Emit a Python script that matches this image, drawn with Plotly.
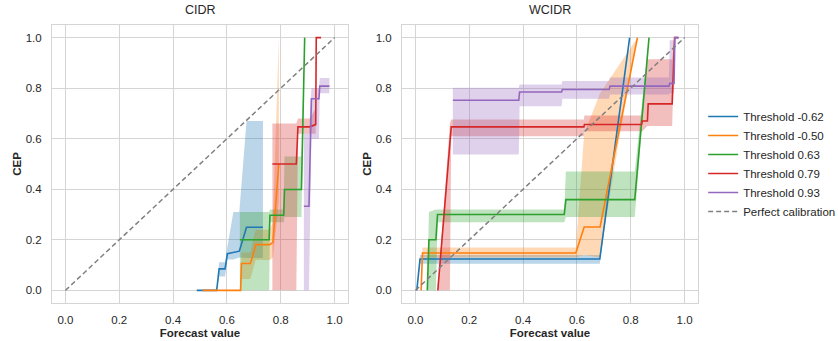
import plotly.graph_objects as go

# ---- data -----------------------------------------------------------------
thresholds = ["Threshold -0.62", "Threshold -0.50", "Threshold 0.63",
              "Threshold 0.79", "Threshold 0.93"]
colors = ["#1f77b4", "#ff7f0e", "#2ca02c", "#d62728", "#9467bd"]
band_colors = ["rgba(31,119,180,0.3)", "rgba(255,127,14,0.3)",
               "rgba(44,160,44,0.3)", "rgba(214,39,40,0.3)",
               "rgba(148,103,189,0.3)"]

# CIDR panel: forecast value, CEP, lower / upper band
cidr_x = [
    [0.488, 0.562, 0.571, 0.593, 0.602, 0.624, 0.646, 0.673, 0.734],
    [0.510, 0.651, 0.654, 0.687, 0.695, 0.707, 0.759, 0.771, 0.793],
    [0.648, 0.757, 0.760, 0.811, 0.814, 0.877, 0.889],
    [0.769, 0.858, 0.864, 0.907, 0.930, 0.932, 0.950],
    [0.886, 0.905, 0.914, 0.942, 0.945, 0.981],
]
cidr_y = [
    [0.0, 0.0, 0.085, 0.085, 0.145, 0.150, 0.155, 0.250, 0.250],
    [0.0, 0.0, 0.106, 0.106, 0.132, 0.181, 0.181, 0.190, 0.500],
    [0.200, 0.200, 0.297, 0.297, 0.399, 0.399, 1.0],
    [0.500, 0.500, 0.647, 0.647, 0.656, 1.0, 1.0],
    [0.333, 0.333, 0.758, 0.758, 0.808, 0.808],
]
cidr_lo = [
    [0.0, 0.0, 0.055, 0.055, 0.122, 0.122, 0.130, 0.128, 0.128],
    [0.0, 0.0, 0.045, 0.045, 0.080, 0.120, 0.120, 0.130, 0.350],
    [0.0, 0.0, 0.270, 0.270, 0.290, 0.290, 1.0],
    [0.0, 0.0, 0.620, 0.620, 0.620, 1.0, 1.0],
    [0.0, 0.0, 0.600, 0.600, 0.780, 0.780],
]
cidr_hi = [
    [0.0, 0.0, 0.111, 0.111, 0.174, 0.310, 0.310, 0.670, 0.670],
    [0.0, 0.0, 0.150, 0.150, 0.190, 0.240, 0.240, 0.270, 1.0],
    [0.310, 0.310, 0.320, 0.320, 0.530, 0.530, 1.0],
    [0.660, 0.660, 0.680, 0.680, 0.720, 1.0, 1.0],
    [0.620, 0.620, 0.800, 0.800, 0.840, 0.840],
]

# WCIDR panel
wcidr_x = [
    [0.005, 0.017, 0.685, 0.796],
    [0.021, 0.026, 0.596, 0.627, 0.686, 0.757, 0.825],
    [0.044, 0.050, 0.076, 0.082, 0.553, 0.559, 0.815, 0.868],
    [0.083, 0.128, 0.133, 0.626, 0.628, 0.840, 0.843, 0.862, 0.865,
     0.954, 0.963, 0.976],
    [0.139, 0.384, 0.387, 0.543, 0.546, 0.720, 0.723, 0.942, 0.945,
     0.961, 0.964, 0.979],
]
wcidr_y = [
    [0.0, 0.124, 0.124, 1.0],
    [0.0, 0.148, 0.148, 0.251, 0.251, 0.634, 1.0],
    [0.0, 0.200, 0.200, 0.300, 0.300, 0.359, 0.359, 1.0],
    [0.0, 0.580, 0.647, 0.647, 0.656, 0.656, 0.670, 0.670, 0.738,
     0.738, 1.0, 1.0],
    [0.752, 0.752, 0.785, 0.785, 0.795, 0.795, 0.808, 0.808, 0.819,
     0.819, 1.0, 1.0],
]
wcidr_lo = [
    [0.0, 0.105, 0.105, 1.0],
    [0.0, 0.130, 0.130, 0.140, 0.130, 0.600, 1.0],
    [0.0, 0.0, 0.0, 0.270, 0.270, 0.290, 0.290, 1.0],
    [0.0, 0.0, 0.610, 0.610, 0.630, 0.630, 0.630, 0.650, 0.650,
     0.650, 1.0, 1.0],
    [0.538, 0.538, 0.729, 0.729, 0.758, 0.758, 0.775, 0.775, 0.780,
     0.780, 1.0, 1.0],
]
wcidr_hi = [
    [0.0, 0.140, 0.140, 1.0],
    [0.0, 0.170, 0.170, 0.620, 0.780, 0.890, 1.0],
    [0.0, 0.310, 0.320, 0.320, 0.320, 0.470, 0.470, 1.0],
    [0.0, 0.660, 0.676, 0.676, 0.692, 0.692, 0.692, 0.914, 0.914,
     0.914, 1.0, 1.0],
    [0.802, 0.802, 0.815, 0.815, 0.828, 0.828, 0.842, 0.842, 0.990,
     0.990, 1.0, 1.0],
]

diag = [0.0, 1.0]
ticks = [0.0, 0.2, 0.4, 0.6, 0.8, 1.0]

# ---- figure ---------------------------------------------------------------
FONT = "Liberation Sans, Arial, sans-serif"
TXT = "#262626"
GRID = "#d5d5d5"

fig = go.Figure()

panels = [
    ("x", "y", cidr_x, cidr_y, cidr_lo, cidr_hi),
    ("x2", "y2", wcidr_x, wcidr_y, wcidr_lo, wcidr_hi),
]

for p, (xa, ya, xs, ys, los, his) in enumerate(panels):
    # confidence bands underneath
    for i in range(len(thresholds)):
        bx = xs[i] + xs[i][::-1]
        by = his[i] + los[i][::-1]
        fig.add_trace(go.Scatter(
            x=bx, y=by, xaxis=xa, yaxis=ya, mode="lines",
            fill="toself", fillcolor=band_colors[i],
            line=dict(width=0), hoverinfo="skip", showlegend=False))
    for i in range(len(thresholds)):
        fig.add_trace(go.Scatter(
            x=xs[i], y=ys[i], xaxis=xa, yaxis=ya, mode="lines",
            line=dict(color=colors[i], width=1.6),
            name=thresholds[i], legendgroup=thresholds[i],
            showlegend=(p == 1)))
    fig.add_trace(go.Scatter(
        x=diag, y=diag, xaxis=xa, yaxis=ya, mode="lines",
        line=dict(color="gray", width=1.5, dash="5px,3px"),
        name="Perfect calibration", legendgroup="diag",
        showlegend=(p == 1)))

axis_common = dict(
    range=[-0.05, 1.05], tickvals=ticks, tickformat=".1f",
    showgrid=True, gridcolor=GRID, gridwidth=1,
    showline=True, linecolor=GRID, linewidth=1, mirror=True,
    zeroline=False, ticks="", tickfont=dict(size=11.5, color=TXT),
    automargin=False,
)

W, H = 838, 341
ML, MR, MT, MB = 52, 140, 25, 38
pw = W - ML - MR
d1 = [0, (348 - ML) / pw]
d2 = [(402 - ML) / pw, 1]

title_font = dict(family=FONT, size=11.5, color=TXT)
fig.update_layout(
    width=W, height=H,
    margin=dict(l=ML, r=MR, t=MT, b=MB, autoexpand=False),
    paper_bgcolor="white", plot_bgcolor="white",
    font=dict(family=FONT, color=TXT),
    xaxis=dict(domain=d1, anchor="y", ticklabelstandoff=6,
               title=dict(text="<b>Forecast value</b>", font=title_font,
                          standoff=4), **axis_common),
    yaxis=dict(domain=[0, 1], anchor="x", ticklabelstandoff=7,
               title=dict(text="<b>CEP</b>", font=title_font, standoff=1),
               **axis_common),
    xaxis2=dict(domain=d2, anchor="y2", ticklabelstandoff=6,
                title=dict(text="<b>Forecast value</b>", font=title_font,
                           standoff=4), **axis_common),
    yaxis2=dict(domain=[0, 1], anchor="x2", ticklabelstandoff=7,
                title=dict(text="<b>CEP</b>", font=title_font, standoff=1),
                **axis_common),
    legend=dict(x=1.008, xanchor="left", y=0.5, yanchor="middle",
                font=dict(size=11.5, color=TXT), bgcolor="rgba(0,0,0,0)",
                itemwidth=30, tracegroupgap=0),
    annotations=[
        dict(text="CIDR", x=(d1[0] + d1[1]) / 2, y=1, xref="paper",
             yref="paper", xanchor="center", yanchor="bottom", yshift=6,
             showarrow=False, font=dict(size=12.5, color=TXT)),
        dict(text="WCIDR", x=(d2[0] + d2[1]) / 2, y=1, xref="paper",
             yref="paper", xanchor="center", yanchor="bottom", yshift=6,
             showarrow=False, font=dict(size=12.5, color=TXT)),
    ],
)

fig.write_html("out.html")
